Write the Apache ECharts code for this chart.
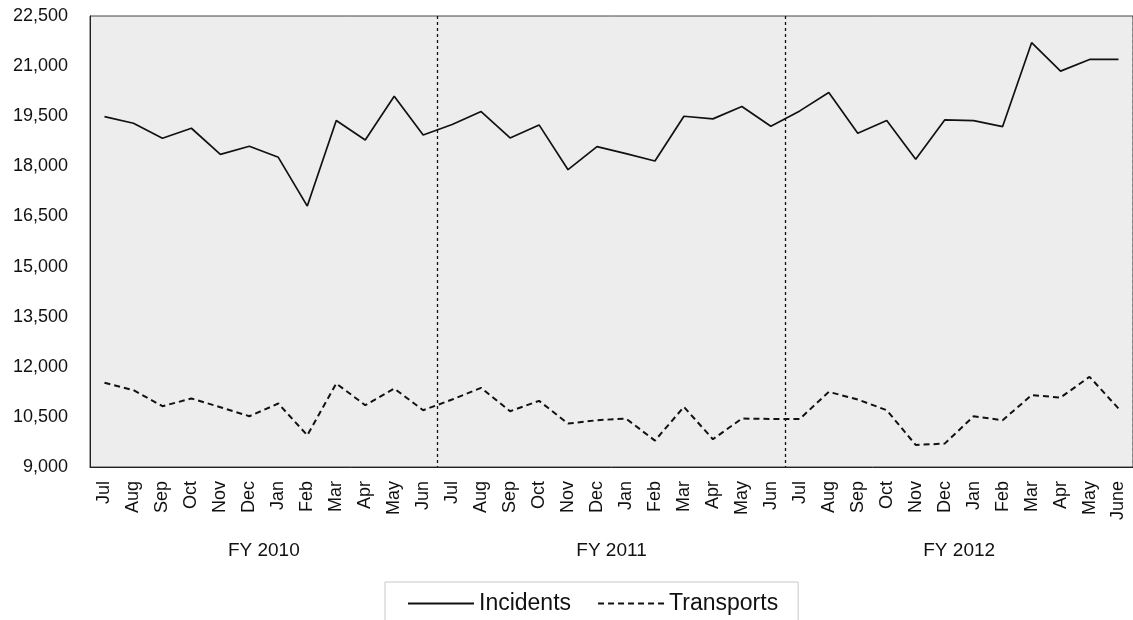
<!DOCTYPE html>
<html>
<head>
<meta charset="utf-8">
<script src="https://cdn.jsdelivr.net/npm/echarts@6/dist/echarts.min.js"></script>
<style>
  html, body { margin: 0; padding: 0; background: #ffffff; }
  #chart { width: 1133px; height: 620px; }
</style>
</head>
<body>
<div id="chart"></div>
<script>
// ---- Data ----
const months = [
  'Jul','Aug','Sep','Oct','Nov','Dec','Jan','Feb','Mar','Apr','May','Jun',
  'Jul','Aug','Sep','Oct','Nov','Dec','Jan','Feb','Mar','Apr','May','Jun',
  'Jul','Aug','Sep','Oct','Nov','Dec','Jan','Feb','Mar','Apr','May','June'
];
const fiscalYears = ['FY 2010', 'FY 2011', 'FY 2012'];
const incidents = [
  19490, 19290, 18840, 19140, 18360, 18600, 18270, 16810, 19370, 18790, 20100, 18940,
  19250, 19640, 18850, 19240, 17900, 18590, 18380, 18160, 19500, 19420, 19790, 19200,
  19660, 20210, 18990, 19370, 18210, 19390, 19370, 19190, 21700, 20850, 21200, 21200
];
const transports = [
  11520, 11300, 10820, 11050, 10790, 10520, 10900, 9950, 11500, 10850, 11350, 10700,
  11020, 11370, 10670, 10980, 10300, 10400, 10450, 9790, 10800, 9830, 10450, 10440,
  10440, 11250, 11020, 10700, 9660, 9700, 10520, 10400, 11150, 11080, 11700, 10750
];
const yMin = 9000, yMax = 22500, yStep = 1500;
const fyBoundaries = [12, 24];

const FONT = '"Liberation Sans", Arial, sans-serif';
const chart = echarts.init(document.getElementById('chart'), null, { renderer: 'canvas' });

chart.setOption({
  animation: false,
  backgroundColor: '#ffffff',
  textStyle: { fontFamily: FONT, color: '#111' },
  grid: {
    left: 90, top: 16, width: 1046, height: 451,
    show: true, backgroundColor: '#ededed', borderColor: '#444', borderWidth: 1
  },
  legend: {
    left: 385, top: 582,
    padding: [10, 20, 10, 22],
    itemGap: 26, itemWidth: 66, itemHeight: 14,
    borderColor: '#c8c8c8', borderWidth: 1, backgroundColor: '#ffffff',
    itemStyle: { color: 'rgba(0,0,0,0)', borderWidth: 0, opacity: 0 },
    textStyle: { fontSize: 23, color: '#111', fontFamily: FONT },
    data: ['Incidents', 'Transports']
  },
  xAxis: [
    {
      type: 'category',
      data: months,
      boundaryGap: true,
      axisLine: { show: true, lineStyle: { color: '#222', width: 1 } },
      axisTick: { show: false },
      axisLabel: {
        rotate: 90, margin: 14, fontSize: 18, color: '#111', fontFamily: FONT,
        interval: 0
      },
      splitLine: {
        show: true,
        interval: function (index) { return fyBoundaries.indexOf(index) >= 0; },
        lineStyle: { color: '#111', width: 1.3, type: [3, 3] }
      }
    },
    {
      type: 'category',
      data: fiscalYears,
      position: 'bottom',
      gridIndex: 0,
      axisLine: { show: false },
      axisTick: { show: false },
      splitLine: { show: false },
      axisLabel: { margin: 74, fontSize: 19, color: '#111', fontFamily: FONT }
    }
  ],
  yAxis: {
    type: 'value',
    min: yMin, max: yMax, interval: yStep,
    axisLine: { show: true, lineStyle: { color: '#222', width: 1 } },
    axisTick: { show: false },
    splitLine: { show: false },
    axisLabel: {
      margin: 22, fontSize: 18, color: '#111', fontFamily: FONT,
      formatter: function (v) { return v.toLocaleString('en-US'); }
    }
  },
  series: [
    {
      name: 'Incidents',
      type: 'line',
      data: incidents,
      symbol: 'none',
      lineStyle: { color: '#111', width: 1.7, type: 'solid' },
      itemStyle: { color: '#111' }
    },
    {
      name: 'Transports',
      type: 'line',
      data: transports,
      symbol: 'none',
      lineStyle: { color: '#111', width: 2, type: [6, 4] },
      itemStyle: { color: '#111' }
    }
  ]
});
</script>
</body>
</html>
